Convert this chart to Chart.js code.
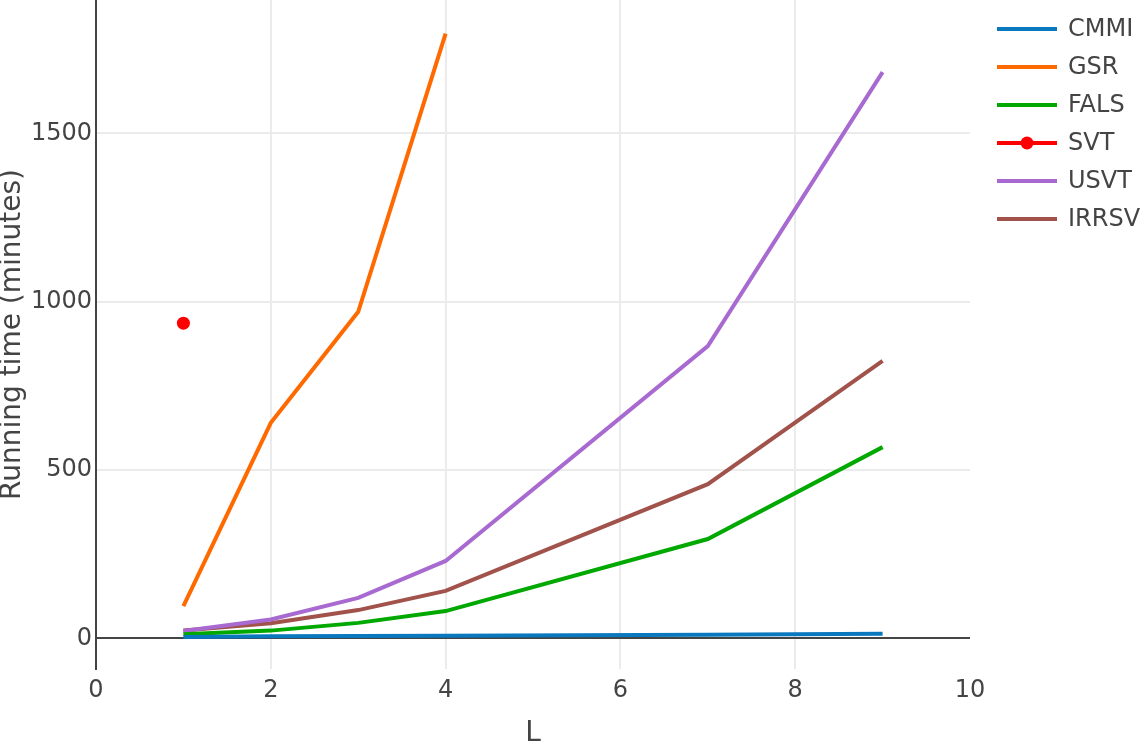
<!DOCTYPE html>
<html>
<head>
<meta charset="utf-8">
<script src="https://cdn.jsdelivr.net/npm/chart.js@4/dist/chart.umd.min.js"></script>
<style>
html,body{margin:0;padding:0;background:#fff;}
#wrap{width:1144px;height:746px;position:relative;}
</style>
</head>
<body>
<div id="wrap"><canvas id="c" width="1144" height="746"></canvas></div>
<script>
const xValues = [1, 2, 3, 4, 7, 9];
const seriesNames = ['CMMI', 'GSR', 'FALS', 'SVT', 'USVT', 'IRRSV'];
const cmmi  = [4, 6, 7, 8, 11, 14];
const gsr   = [96, 640, 970, 1796];
const fals  = [12, 23, 46, 81, 295, 568];
const svtX  = [1];
const svt   = [936];
const usvt  = [22, 56, 120, 230, 868, 1682];
const irrsv = [23, 45, 84, 141, 458, 824];
const xTicks = [0, 2, 4, 6, 8, 10];
const yTicks = [0, 500, 1000, 1500];
const colors = ['#0a78be', '#ff6a00', '#00a800', '#ff0000', '#a86ad0', '#a0524b'];

const pts = (xs, ys) => ys.map((v, i) => ({x: xs[i], y: v}));
const seriesData = [pts(xValues, cmmi), pts(xValues, gsr), pts(xValues, fals), pts(svtX, svt), pts(xValues, usvt), pts(xValues, irrsv)];

const FONT = '"DejaVu Sans", Verdana, sans-serif';
const TXT = '#444';

const legendPlugin = {
  id: 'plotlyLegend',
  afterDraw(chart) {
    const ctx = chart.ctx;
    ctx.save();
    chart.data.datasets.forEach((ds, i) => {
      const y = 29 + i * 38;
      ctx.strokeStyle = ds.borderColor;
      ctx.lineWidth = 4;
      ctx.beginPath();
      ctx.moveTo(997, y);
      ctx.lineTo(1057, y);
      ctx.stroke();
      if (ds.label === 'SVT') {
        ctx.fillStyle = ds.borderColor;
        ctx.beginPath();
        ctx.arc(1027, y, 6.5, 0, Math.PI * 2);
        ctx.fill();
      }
      ctx.fillStyle = TXT;
      ctx.font = '24px ' + FONT;
      ctx.textBaseline = 'middle';
      ctx.textAlign = 'left';
      ctx.fillText(ds.label, 1068, y + 1);
    });
    ctx.restore();
  }
};

new Chart(document.getElementById('c'), {
  type: 'line',
  data: {
    datasets: seriesNames.map((name, i) => ({
      label: name,
      data: seriesData[i],
      borderColor: colors[i],
      backgroundColor: colors[i],
      borderWidth: 4,
      pointRadius: name === 'SVT' ? 6.5 : 0,
      pointHoverRadius: name === 'SVT' ? 6.5 : 0,
      pointBorderWidth: 0,
      showLine: name !== 'SVT',
      tension: 0,
      fill: false,
      order: name === 'CMMI' ? 0 : i
    }))
  },
  options: {
    responsive: false,
    animation: false,
    devicePixelRatio: 1,
    layout: {autoPadding: false, padding: {left: 0, right: 174, top: 0, bottom: 0}},
    plugins: {legend: {display: false}, tooltip: {enabled: false}},
    scales: {
      x: {
        type: 'linear',
        min: 0, max: 10,
        afterBuildTicks: s => { s.ticks = xTicks.map(v => ({value: v})); },
        afterFit: s => { s.height = 77; s.paddingLeft = 0; s.paddingRight = 0; },
        grid: {
          drawTicks: false,
          lineWidth: 2,
          color: c => (c.tick && (c.tick.value === 0 || c.tick.value === 10)) ? 'rgba(0,0,0,0)' : '#ebebeb'
        },
        border: {display: false},
        ticks: {color: TXT, font: {family: FONT, size: 24}, padding: 7, maxRotation: 0, callback: v => String(v)},
        title: {display: true, text: 'L', color: TXT, font: {family: FONT, size: 28, lineHeight: 0.9}, padding: 0}
      },
      y: {
        type: 'linear',
        min: -91, max: 1896,
        afterBuildTicks: s => { s.ticks = yTicks.map(v => ({value: v})); },
        afterFit: s => { s.width = 96; s.paddingTop = 0; s.paddingBottom = 0; },
        grid: {
          drawTicks: false,
          lineWidth: 2,
          color: c => (c.tick && c.tick.value === 0) ? '#444' : '#ebebeb'
        },
        border: {display: true, color: '#444', width: 2},
        ticks: {color: TXT, font: {family: FONT, size: 24}, padding: 4, callback: v => String(v)},
        title: {display: true, text: 'Running time (minutes)', color: TXT, font: {family: FONT, size: 28, lineHeight: 0.9}, padding: 0}
      }
    }
  },
  plugins: [legendPlugin]
});
</script>
</body>
</html>
